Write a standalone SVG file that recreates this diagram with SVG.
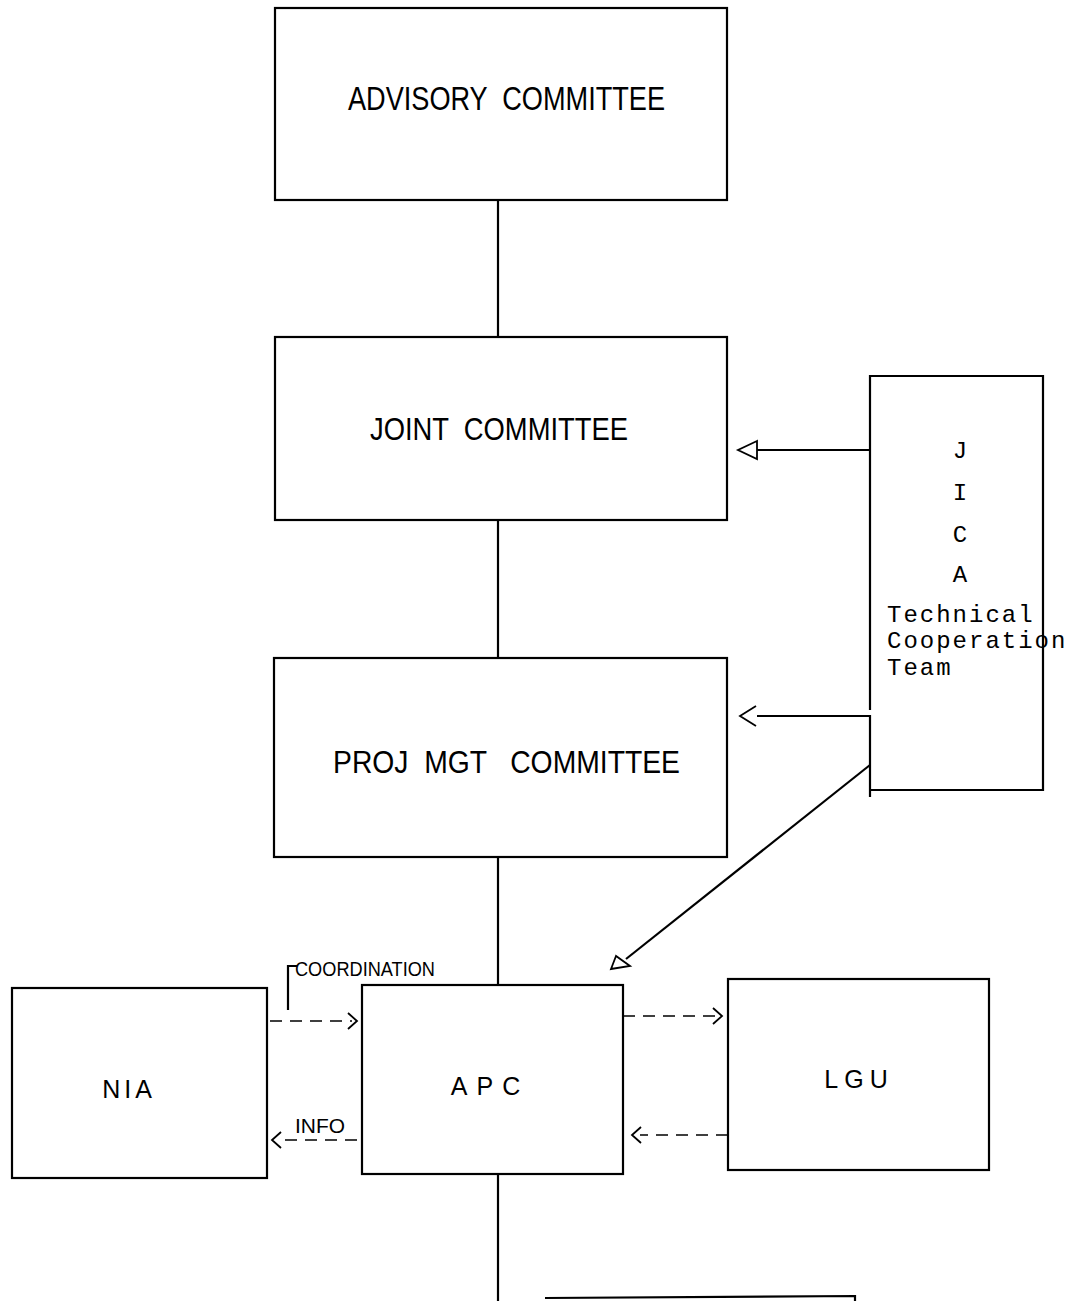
<svg xmlns="http://www.w3.org/2000/svg" width="1078" height="1301" viewBox="0 0 1078 1301">
<style>
.box{fill:none;stroke:#000;stroke-width:2.2}
.ln{fill:none;stroke:#000;stroke-width:2.2}
.dash{fill:none;stroke:#000;stroke-width:1.6;stroke-dasharray:12 8}
.lbl{font-family:"Liberation Sans","DejaVu Sans",sans-serif;fill:#000;white-space:pre}
.mono{font-family:"Liberation Mono","DejaVu Sans Mono",monospace;fill:#000;font-size:24px}
.ah{fill:none;stroke:#000;stroke-width:1.8}
</style>
<rect width="1078" height="1301" fill="#fff"/>
<g id="connectors">
<line class="ln" x1="498" y1="200" x2="498" y2="337"/>
<line class="ln" x1="498" y1="520" x2="498" y2="658"/>
<line class="ln" x1="498" y1="857" x2="498" y2="985"/>
<line class="ln" x1="498" y1="1174" x2="498" y2="1301"/>
<line class="ln" x1="757" y1="450" x2="870" y2="450"/>
<path class="ah" d="M757,441 L738,450 L757,459 Z"/>
<line class="ln" x1="757" y1="716" x2="870" y2="716"/>
<path class="ah" d="M756,706 L740,716 L756,726"/>
<line class="ln" x1="870" y1="765" x2="626" y2="959"/>
<path class="ah" d="M616,956 L611,969 L630,966 Z"/>
<line class="dash" x1="270" y1="1021" x2="352" y2="1021"/>
<path class="ah" d="M348,1013 L357,1021 L348,1029"/>
<path class="ln" d="M297,966 L288,966 L288,1010" stroke-width="1.6"/>
<line class="dash" x1="357" y1="1140" x2="280" y2="1140"/>
<path class="ah" d="M281,1132 L272,1140 L281,1148"/>
<line class="dash" x1="623" y1="1016" x2="716" y2="1016"/>
<path class="ah" d="M713,1008 L722,1016 L713,1024"/>
<line class="dash" x1="728" y1="1135" x2="640" y2="1135"/>
<path class="ah" d="M641,1127 L632,1135 L641,1143"/>
</g>
<g id="advisory-committee">
<rect class="box" x="275" y="8" width="452" height="192"/>
<text class="lbl" xml:space="preserve" x="348" y="110" font-size="33" textLength="317" lengthAdjust="spacingAndGlyphs">ADVISORY  COMMITTEE</text>
</g>
<g id="joint-committee">
<rect class="box" x="275" y="337" width="452" height="183"/>
<text class="lbl" xml:space="preserve" x="370" y="440" font-size="32" textLength="258" lengthAdjust="spacingAndGlyphs">JOINT  COMMITTEE</text>
</g>
<g id="proj-mgt-committee">
<rect class="box" x="274" y="658" width="453" height="199"/>
<text class="lbl" xml:space="preserve" x="333" y="773" font-size="32" textLength="347" lengthAdjust="spacingAndGlyphs">PROJ  MGT   COMMITTEE</text>
</g>
<g id="jica">
<path class="box" d="M870,710 L870,376 L1043,376 L1043,790 L870,790 M870,715 L870,797"/>
<text class="mono" x="960" y="458" text-anchor="middle">J</text>
<text class="mono" x="960" y="500" text-anchor="middle">I</text>
<text class="mono" x="960" y="542" text-anchor="middle">C</text>
<text class="mono" x="960" y="582" text-anchor="middle">A</text>
<text class="mono" x="887" y="622" letter-spacing="2">Technical</text>
<text class="mono" x="887" y="648" letter-spacing="2">Cooperation</text>
<text class="mono" x="887" y="675" letter-spacing="2">Team</text>
</g>
<g id="apc">
<rect class="box" x="362" y="985" width="261" height="189"/>
<text class="lbl" x="490" y="1095" font-size="25" text-anchor="middle" letter-spacing="9">APC</text>
</g>
<g id="nia">
<rect class="box" x="12" y="988" width="255" height="190"/>
<text class="lbl" x="129" y="1098" font-size="25" text-anchor="middle" letter-spacing="4">NIA</text>
</g>
<g id="lgu">
<rect class="box" x="728" y="979" width="261" height="191"/>
<text class="lbl" x="859" y="1088" font-size="25" text-anchor="middle" letter-spacing="6">LGU</text>
</g>
<g id="coordination-label">
<text class="lbl" x="295" y="976" font-size="20" textLength="140" lengthAdjust="spacingAndGlyphs">COORDINATION</text>
</g>
<g id="info-label">
<text class="lbl" x="295" y="1133" font-size="20" textLength="50" lengthAdjust="spacingAndGlyphs">INFO</text>
</g>
<g id="bottom-box">
<path class="ln" d="M545,1298 L855,1296 L855,1301"/>
</g>
</svg>
